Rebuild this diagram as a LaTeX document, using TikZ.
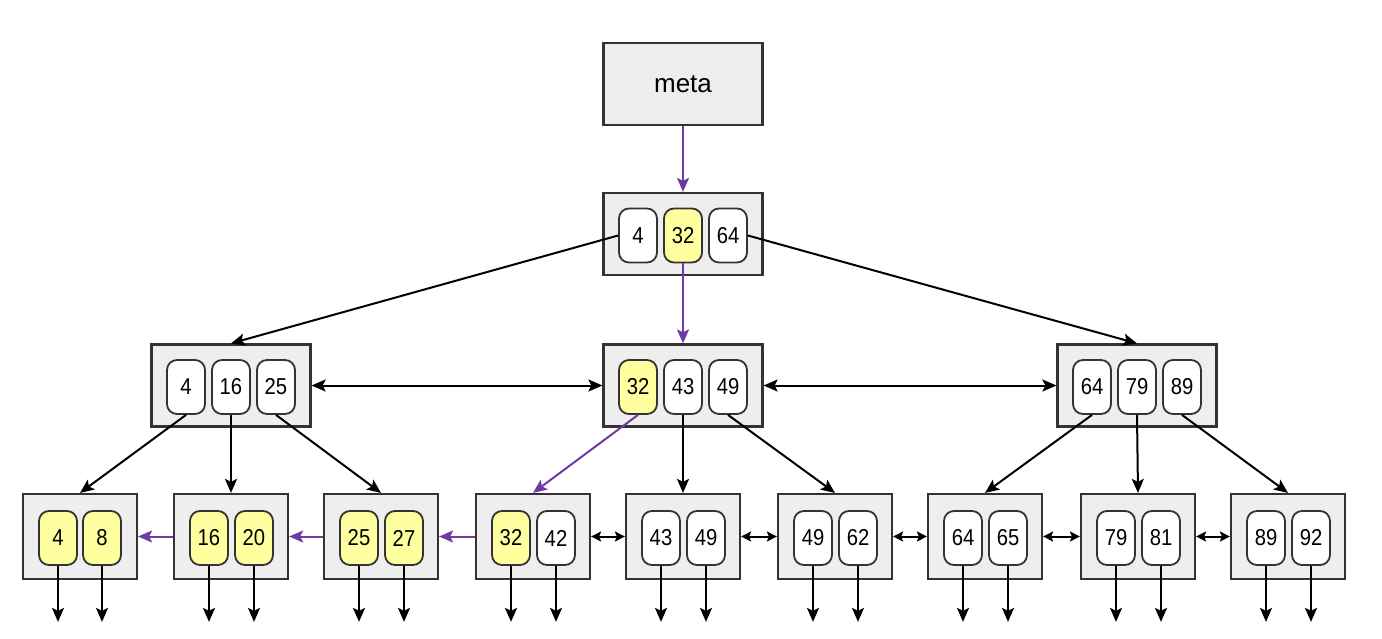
\documentclass[tikz,border=0pt]{standalone}
\usepackage{fontspec}
\setmainfont{Liberation Sans}
\newfontfamily\cifras[FakeStretch=0.88]{Liberation Sans}
\usetikzlibrary{arrows.meta}
\definecolor{gris}{RGB}{238,238,238}
\definecolor{borde}{RGB}{51,51,51}
\definecolor{amarillo}{RGB}{255,255,160}
\definecolor{morado}{RGB}{112,58,164}
\begin{document}
\begin{tikzpicture}[x=1pt,y=-1pt,
  caja/.style={draw=borde, fill=gris, line width=2.2pt, minimum width=159pt, minimum height=82pt, inner sep=0pt},
  hoja/.style={caja, minimum width=114pt, minimum height=85pt},
  clave/.style={draw=borde, fill=white, line width=1.8pt, rounded corners=10pt, minimum width=38pt, minimum height=54pt, inner sep=0pt, font=\cifras\fontsize{23}{24}\selectfont},
  marca/.style={clave, fill=amarillo},
  flecha/.style={line width=2pt, -{Stealth[length=14pt,width=12pt,inset=3pt]}},
  ruta/.style={flecha, draw=morado},
  doble/.style={line width=2pt, {Stealth[length=14pt,width=12pt,inset=3pt]}-{Stealth[length=14pt,width=12pt,inset=3pt]}},
  corta/.style={line width=2pt, {Stealth[length=10pt,width=10pt,inset=2pt]}-{Stealth[length=10pt,width=10pt,inset=2pt]}},
]
\useasboundingbox (0,0) rectangle (1382,638);

% Meta
\node[caja, font=\fontsize{26}{28}\selectfont] (meta) at (683,84) {meta};

% Raiz
\node[caja] (raiz) at (683,234) {};
\node[clave] (r1) at (638,235.5) {4};
\node[marca] (r2) at (683,235.5) {32};
\node[clave] (r3) at (728,235.5) {64};

% Nivel 2
\node[caja] (n1) at (231,385.5) {};
\node[clave] (n1a) at (186,387) {4};
\node[clave] (n1b) at (231,387) {16};
\node[clave] (n1c) at (276,387) {25};

\node[caja] (n2) at (683,385.5) {};
\node[marca] (n2a) at (638,387) {32};
\node[clave] (n2b) at (683,387) {43};
\node[clave] (n2c) at (728,387) {49};

\node[caja] (n3) at (1137,385.5) {};
\node[clave] (n3a) at (1092,387) {64};
\node[clave] (n3b) at (1137,387) {79};
\node[clave] (n3c) at (1182,387) {89};

% Hojas
\node[hoja] (h1) at (80,536.5) {};
\node[marca] (h1a) at (58,538) {4};
\node[marca] (h1b) at (102,538) {8};

\node[hoja] (h2) at (231,536.5) {};
\node[marca] (h2a) at (209,538) {16};
\node[marca] (h2b) at (254,538) {20};

\node[hoja] (h3) at (381,536.5) {};
\node[marca] (h3a) at (359,538) {25};
\node[marca] (h3b) at (404,538) {27};

\node[hoja] (h4) at (533,536.5) {};
\node[marca] (h4a) at (511,538) {32};
\node[clave] (h4b) at (556,538) {42};

\node[hoja] (h5) at (683,536.5) {};
\node[clave] (h5a) at (661,538) {43};
\node[clave] (h5b) at (706,538) {49};

\node[hoja] (h6) at (835,536.5) {};
\node[clave] (h6a) at (813,538) {49};
\node[clave] (h6b) at (858,538) {62};

\node[hoja] (h7) at (985,536.5) {};
\node[clave] (h7a) at (963,538) {64};
\node[clave] (h7b) at (1008,538) {65};

\node[hoja] (h8) at (1138,536.5) {};
\node[clave] (h8a) at (1116,538) {79};
\node[clave] (h8b) at (1161,538) {81};

\node[hoja] (h9) at (1288,536.5) {};
\node[clave] (h9a) at (1266,538) {89};
\node[clave] (h9b) at (1311,538) {92};

% Camino de busqueda
\draw[ruta] (meta) -- (raiz);
\draw[ruta] (r2.south) -- (n2);
\draw[ruta] (n2a.south) -- (h4.north);

% Raiz a nivel 2
\draw[flecha] (r1.west) -- (n1.north);
\draw[flecha] (r3.east) -- (n3.north);

% Nivel 2 a hojas
\draw[flecha] (n1a.south) -- (h1.north);
\draw[flecha] (n1b.south) -- (h2.north);
\draw[flecha] (n1c.south) -- (h3.north);
\draw[flecha] (n2b.south) -- (h5.north);
\draw[flecha] (n2c.south) -- (h6.north);
\draw[flecha] (n3a.south) -- (h7.north);
\draw[flecha] (n3b.south) -- (h8.north);
\draw[flecha] (n3c.south) -- (h9.north);

% Hermanos
\draw[doble] (n1) -- (n2);
\draw[doble] (n2) -- (n3);
\draw[ruta] (h2) -- (h1);
\draw[ruta] (h3) -- (h2);
\draw[ruta] (h4) -- (h3);
\draw[corta] (h4) -- (h5);
\draw[corta] (h5) -- (h6);
\draw[corta] (h6) -- (h7);
\draw[corta] (h7) -- (h8);
\draw[corta] (h8) -- (h9);

% Punteros hacia abajo
\foreach \k in {h1a,h1b,h2a,h2b,h3a,h3b,h4a,h4b,h5a,h5b,h6a,h6b,h7a,h7b,h8a,h8b,h9a,h9b}
  \draw[flecha] (\k.south) -- ++(0,56);

\end{tikzpicture}
\end{document}
